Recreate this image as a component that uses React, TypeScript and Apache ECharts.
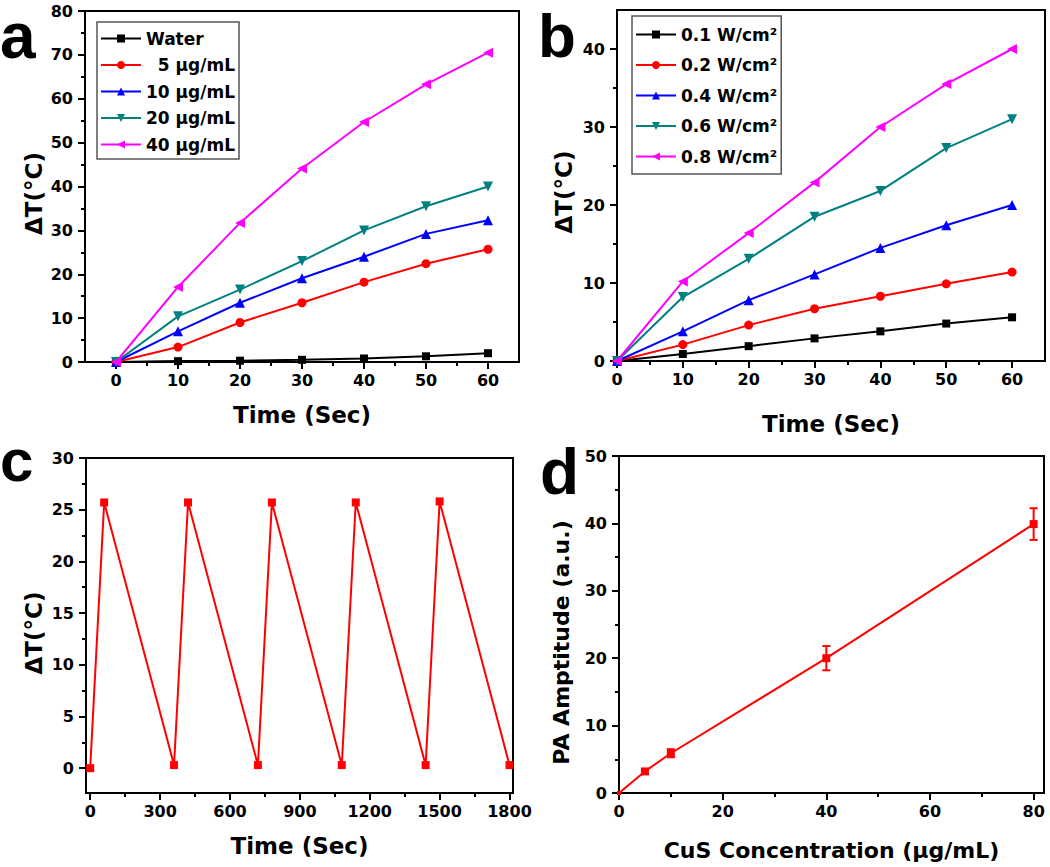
import React, { useEffect, useRef } from 'react';
import * as echarts from 'echarts';

// ---------- Panel a: ΔT vs time for different concentrations ----------
const timeA = [0, 10, 20, 30, 40, 50, 60];
const waterA = [0, 0.2, 0.3, 0.5, 0.8, 1.3, 2.0];
const conc5A = [0, 3.4, 9.0, 13.5, 18.2, 22.4, 25.7];
const conc10A = [0, 7.0, 13.5, 19.1, 24.0, 29.2, 32.3];
const conc20A = [0, 10.4, 16.5, 23.0, 30.0, 35.5, 40.0];
const conc40A = [0, 17.1, 31.7, 44.1, 54.7, 63.3, 70.5];
const namesA = ['Water', '  5 μg/mL', '10 μg/mL', '20 μg/mL', '40 μg/mL'];

// ---------- Panel b: ΔT vs time for different power densities ----------
const timeB = [0, 10, 20, 30, 40, 50, 60];
const p01B = [0, 0.9, 1.9, 2.9, 3.8, 4.8, 5.6];
const p02B = [0, 2.1, 4.6, 6.7, 8.3, 9.9, 11.4];
const p04B = [0, 3.8, 7.8, 11.1, 14.5, 17.4, 20.0];
const p06B = [0, 8.2, 13.1, 18.5, 21.8, 27.3, 31.0];
const p08B = [0, 10.2, 16.4, 22.9, 30.0, 35.5, 40.0];
const namesB = ['0.1 W/cm²', '0.2 W/cm²', '0.4 W/cm²', '0.6 W/cm²', '0.8 W/cm²'];

// ---------- Panel c: heating / cooling cycles ----------
const cycleTime = [0, 60, 360, 420, 720, 780, 1080, 1140, 1440, 1500, 1800];
const cycleDT = [0, 25.7, 0.3, 25.7, 0.3, 25.7, 0.3, 25.7, 0.3, 25.8, 0.3];

// ---------- Panel d: PA amplitude vs concentration ----------
const cusConc = [0, 5, 10, 40, 80];
const paAmp = [0, 3.2, 5.9, 20.0, 39.9];
const paErr = [0, 0.3, 0.6, 1.8, 2.35];

// ---------- Tick values ----------
const ticksAX = [0, 10, 20, 30, 40, 50, 60];
const minorAX = [5, 15, 25, 35, 45, 55];
const ticksAY = [0, 10, 20, 30, 40, 50, 60, 70, 80];
const minorAY = [5, 15, 25, 35, 45, 55, 65, 75];
const ticksBX = [0, 10, 20, 30, 40, 50, 60];
const minorBX = [5, 15, 25, 35, 45, 55];
const ticksBY = [0, 10, 20, 30, 40];
const minorBY = [5, 15, 25, 35];
const ticksCX = [0, 300, 600, 900, 1200, 1500, 1800];
const minorCX = [150, 450, 750, 1050, 1350, 1650];
const ticksCY = [0, 5, 10, 15, 20, 25, 30];
const minorCY = [2.5, 7.5, 12.5, 17.5, 22.5, 27.5];
const ticksDX = [0, 20, 40, 60, 80];
const minorDX = [10, 30, 50, 70];
const ticksDY = [0, 10, 20, 30, 40, 50];
const minorDY = [5, 15, 25, 35, 45];

const FONT = "'DejaVu Sans', sans-serif";
const LETTER_FONT = "'Liberation Sans', Arial, sans-serif";

function axisPair(
  dim: 'x' | 'y',
  gridIndex: number,
  min: number,
  max: number,
  major: number[],
  minor: number[],
  name: string,
  nameGap: number,
  nameSize: number,
  namePadding: number[] = [0, 0, 0, 0]
) {
  const position = dim === 'x' ? 'bottom' : 'left';
  const main = {
    type: 'value',
    gridIndex,
    position,
    min,
    max,
    name,
    nameLocation: 'middle',
    nameGap,
    nameTextStyle: {
      fontFamily: FONT,
      fontWeight: 'bold',
      fontSize: nameSize,
      color: '#000',
      padding: namePadding,
    },
    axisLine: { show: true, onZero: false, lineStyle: { color: '#000', width: 2 } },
    axisTick: {
      show: true,
      inside: false,
      length: 7,
      customValues: major,
      lineStyle: { color: '#000', width: 2 },
    },
    axisLabel: {
      show: true,
      margin: dim === 'x' ? 10 : 12,
      customValues: major,
      formatter: (v: number) => String(v),
      fontFamily: FONT,
      fontWeight: 'bold',
      fontSize: 16,
      color: '#000',
      hideOverlap: false,
    },
    splitLine: { show: false },
  };
  const minorAxis = {
    type: 'value',
    gridIndex,
    position,
    min,
    max,
    axisLine: { show: false, onZero: false },
    axisTick: {
      show: true,
      inside: false,
      length: 4,
      customValues: minor,
      lineStyle: { color: '#000', width: 2 },
    },
    axisLabel: { show: false },
    splitLine: { show: false },
  };
  return [main, minorAxis];
}

function lineSeries(
  name: string,
  xs: number[],
  ys: number[],
  color: string,
  symbol: string,
  symbolSize: number,
  symbolRotate: number,
  axisIndex: number
) {
  return {
    type: 'line',
    name,
    xAxisIndex: axisIndex,
    yAxisIndex: axisIndex,
    data: xs.map((x, i) => [x, ys[i]]),
    symbol,
    symbolSize,
    symbolRotate,
    showAllSymbol: true,
    lineStyle: { color, width: 2 },
    itemStyle: { color, borderWidth: 0 },
    emphasis: { disabled: true },
    z: 3,
  };
}

export default function App() {
  const ref = useRef<HTMLDivElement>(null);

  useEffect(() => {
    if (!ref.current) return;
    const chart = echarts.init(ref.current, undefined, { renderer: 'svg' });

    const gridBase = {
      show: true,
      borderColor: '#000',
      borderWidth: 2,
      backgroundColor: 'transparent',
      containLabel: false,
      outerBoundsMode: 'none',
    };

    const [axX, axXm] = axisPair('x', 0, -5, 65, ticksAX, minorAX, 'Time (Sec)', 41, 23);
    const [ayY, ayYm] = axisPair('y', 0, 0, 80, ticksAY, minorAY, 'ΔT(°C)', 40, 23, [0, 14, 0, 0]);
    const [bxX, bxXm] = axisPair('x', 1, 0, 65, ticksBX, minorBX, 'Time (Sec)', 51, 23);
    const [byY, byYm] = axisPair('y', 1, 0, 45, ticksBY, minorBY, 'ΔT(°C)', 42, 23, [0, 13, 0, 0]);
    const [cxX, cxXm] = axisPair('x', 2, -18, 1815, ticksCX, minorCX, 'Time (Sec)', 41, 23);
    const [cyY, cyYm] = axisPair('y', 2, -2.4, 30, ticksCY, minorCY, 'ΔT(°C)', 41, 23, [0, 15, 0, 0]);
    const [dxX, dxXm] = axisPair('x', 3, 0, 82, ticksDX, minorDX, 'CuS Concentration (μg/mL)', 46, 22);
    const [dyY, dyYm] = axisPair('y', 3, 0, 50, ticksDY, minorDY, 'PA Amptitude (a.u.)', 47, 22, [0, 36, 0, 0]);

    const legendBase = {
      orient: 'vertical',
      itemWidth: 40,
      itemHeight: 10,
      backgroundColor: '#fff',
      borderColor: '#555',
      borderWidth: 1.5,
      borderRadius: 0,
      selectedMode: false,
      textStyle: { fontFamily: FONT, fontWeight: 'bold', fontSize: 17, color: '#000' },
    };

    const errData = cusConc
      .map((x, i) => [x, paAmp[i] - paErr[i], paAmp[i] + paErr[i], paErr[i]])
      .filter((d) => d[3] > 0);

    const letterStyle = (text: string, size: number) => ({
      text,
      font: `bold ${size}px ${LETTER_FONT}`,
      fill: '#000',
      verticalAlign: 'top',
      align: 'left',
    });

    const option: any = {
      animation: false,
      backgroundColor: '#fff',
      grid: [
        { ...gridBase, left: 85, top: 11, width: 434, height: 351 },
        { ...gridBase, left: 617, top: 10, width: 428, height: 351 },
        { ...gridBase, left: 86, top: 458, width: 427, height: 335 },
        { ...gridBase, left: 619, top: 456, width: 425, height: 337 },
      ],
      xAxis: [axX, axXm, bxX, bxXm, cxX, cxXm, dxX, dxXm],
      yAxis: [ayY, ayYm, byY, byYm, cyY, cyYm, dyY, dyYm],
      legend: [
        { ...legendBase, data: namesA, left: 97, top: 22, itemGap: 9.5, padding: [8, 4, 6, 3] },
        { ...legendBase, data: namesB, left: 632, top: 16, itemGap: 13.5, padding: [10, 4, 9, 3] },
      ],
      series: [
        lineSeries(namesA[0], timeA, waterA, '#000000', 'rect', 8, 0, 0),
        lineSeries(namesA[1], timeA, conc5A, '#ff0000', 'circle', 9, 0, 0),
        lineSeries(namesA[2], timeA, conc10A, '#0000ff', 'triangle', 10, 0, 0),
        lineSeries(namesA[3], timeA, conc20A, '#008080', 'triangle', 10, 180, 0),
        lineSeries(namesA[4], timeA, conc40A, '#ff00ff', 'triangle', 10, 90, 0),

        lineSeries(namesB[0], timeB, p01B, '#000000', 'rect', 8, 0, 2),
        lineSeries(namesB[1], timeB, p02B, '#ff0000', 'circle', 9, 0, 2),
        lineSeries(namesB[2], timeB, p04B, '#0000ff', 'triangle', 10, 0, 2),
        lineSeries(namesB[3], timeB, p06B, '#008080', 'triangle', 10, 180, 2),
        lineSeries(namesB[4], timeB, p08B, '#ff00ff', 'triangle', 10, 90, 2),

        { ...lineSeries('cycle', cycleTime, cycleDT, '#ff0000', 'rect', 8, 0, 4) },

        {
          ...lineSeries('PA', cusConc, paAmp, '#ff0000', 'rect', 8, 0, 6),
          data: cusConc.map((x, i) =>
            paErr[i] > 0 ? [x, paAmp[i]] : { value: [x, paAmp[i]], symbolSize: 4 }
          ),
        },
        {
          type: 'custom',
          name: 'PA error',
          xAxisIndex: 6,
          yAxisIndex: 6,
          data: errData,
          encode: { x: 0, y: [1, 2] },
          z: 4,
          renderItem: (_params: any, api: any) => {
            const lo = api.coord([api.value(0), api.value(1)]);
            const hi = api.coord([api.value(0), api.value(2)]);
            const w = 4;
            const style = { stroke: '#ff0000', lineWidth: 2 };
            return {
              type: 'group',
              children: [
                { type: 'line', shape: { x1: lo[0], y1: lo[1], x2: hi[0], y2: hi[1] }, style },
                { type: 'line', shape: { x1: lo[0] - w, y1: lo[1], x2: lo[0] + w, y2: lo[1] }, style },
                { type: 'line', shape: { x1: hi[0] - w, y1: hi[1], x2: hi[0] + w, y2: hi[1] }, style },
              ],
            };
          },
        },
      ],
      graphic: [
        { type: 'text', x: 0, y: 4, style: letterStyle('a', 64) },
        { type: 'text', x: 538, y: 4, style: letterStyle('b', 62) },
        { type: 'text', x: 0, y: 430, style: letterStyle('c', 60) },
        { type: 'text', x: 540, y: 440, style: letterStyle('d', 64) },
      ],
    };

    chart.setOption(option);
    return () => {
      chart.dispose();
    };
  }, []);

  return (
    <div
      ref={ref}
      style={{ position: 'absolute', left: 0, top: 0, width: 1050, height: 867, background: '#fff' }}
    />
  );
}
